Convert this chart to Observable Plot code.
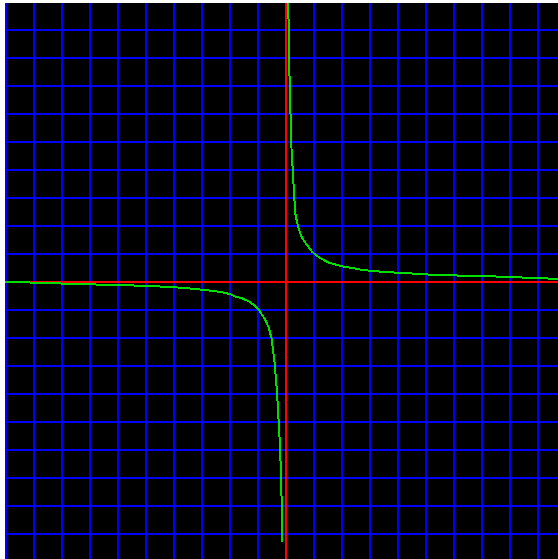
<!DOCTYPE html>
<html>
<head>
<meta charset="utf-8">
<script src="https://cdn.jsdelivr.net/npm/d3@7"></script>
<script src="https://cdn.jsdelivr.net/npm/@observablehq/plot@0.6"></script>
<style>
  html, body { margin: 0; padding: 0; background: #ffffff; }
  #chart { position: absolute; left: 5px; top: 3px; }
  #chart svg { display: block; background: #000000; }
</style>
</head>
<body>
<div id="chart"></div>
<script>
// Grid lines (one per unit)
const gridX = [-10, -9, -8, -7, -6, -5, -4, -3, -2, -1, 0, 1, 2, 3, 4, 5, 6, 7, 8, 9];
const gridY = [-9, -8, -7, -6, -5, -4, -3, -2, -1, 0, 1, 2, 3, 4, 5, 6, 7, 8, 9];

// Curve, upper-right branch
const upperX = [0.08, 0.12, 0.19, 0.26, 0.33, 0.40, 0.46, 0.52, 0.59, 0.68, 0.77, 0.86, 0.95, 1.18, 1.5, 2.0, 2.46, 2.73, 3.48, 4.73, 5.34, 7.39, 9.48, 9.71];
const upperY = [9.96, 7.54, 4.89, 3.64, 2.46, 2.1, 1.88, 1.70, 1.56, 1.42, 1.30, 1.17, 1.06, 0.88, 0.70, 0.56, 0.48, 0.43, 0.36, 0.29, 0.25, 0.20, 0.12, 0.12];

// Curve, lower-left branch
const lowerX = [-10.04, -9.73, -7.54, -4.89, -3.64, -2.86, -2.32, -2.0, -1.82, -1.55, -1.32, -1.09, -0.93, -0.77, -0.625, -0.52, -0.41, -0.32, -0.21, -0.14, -0.14];
const lowerY = [0, 0, -0.07, -0.14, -0.21, -0.29, -0.36, -0.43, -0.52, -0.59, -0.70, -0.86, -1.05, -1.30, -1.6, -2.0, -2.86, -3.96, -5.93, -8.32, -9.25];

const upper = upperX.map((x, i) => ({x, y: upperY[i]}));
const lower = lowerX.map((x, i) => ({x, y: lowerY[i]}));

const BLUE = "#0000ff", RED = "#ff0000", GREEN = "#00e000";

const chart = Plot.plot({
  width: 553,
  height: 556,
  marginTop: 0, marginRight: 0, marginBottom: 0, marginLeft: 0,
  x: {domain: [-10.036, 9.714], axis: null},
  y: {domain: [-9.893, 9.964], axis: null},
  marks: [
    Plot.ruleX(gridX, {stroke: BLUE, strokeWidth: 2, dx: -0.5, shapeRendering: "crispEdges"}),
    Plot.ruleY(gridY, {stroke: BLUE, strokeWidth: 2, dy: -0.5, shapeRendering: "crispEdges"}),
    Plot.ruleY([0], {stroke: RED, strokeWidth: 2, dy: -0.5, shapeRendering: "crispEdges"}),
    Plot.ruleX([0], {stroke: RED, strokeWidth: 2, dx: -0.5, shapeRendering: "crispEdges"}),
    Plot.line(upper, {x: "x", y: "y", stroke: GREEN, strokeWidth: 2, dx: -0.5, dy: -0.5, shapeRendering: "crispEdges"}),
    Plot.line(lower, {x: "x", y: "y", stroke: GREEN, strokeWidth: 2, dx: -0.5, dy: -0.5, shapeRendering: "crispEdges"})
  ]
});
document.getElementById("chart").appendChild(chart);
</script>
</body>
</html>
